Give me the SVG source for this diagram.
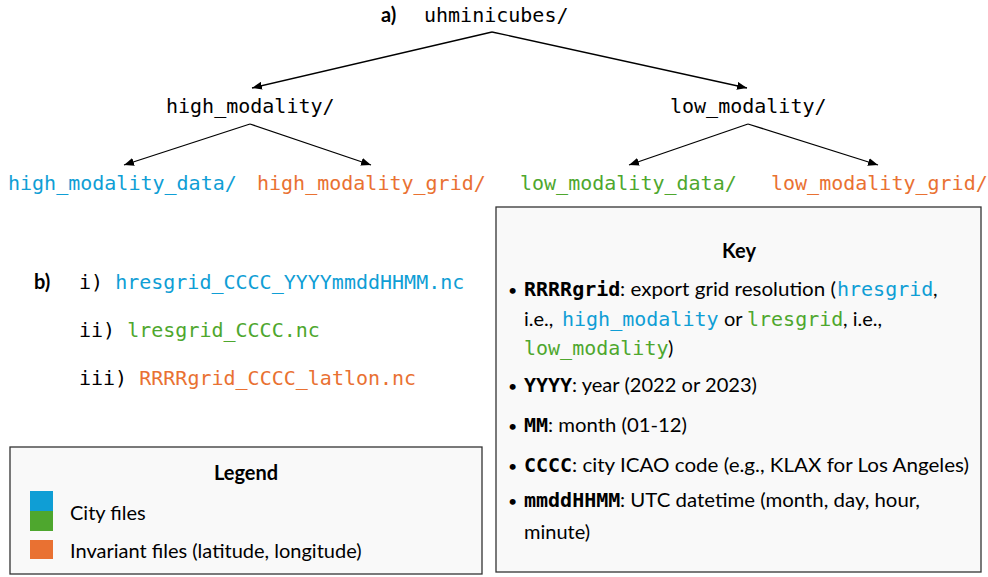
<svg xmlns="http://www.w3.org/2000/svg" width="988" height="577" viewBox="0 0 988 577">
  <defs>
    <marker id="arrow" viewBox="0 0 10 8" refX="10" refY="4" markerWidth="10" markerHeight="8" markerUnits="userSpaceOnUse" orient="auto">
      <path d="M0,0 L10,4 L0,8 Z" fill="#000"/>
    </marker>
  </defs>
  <style>
    .mono { font-family: "DejaVu Sans Mono", "Liberation Mono", monospace; font-size: 20px; fill: #000; }
    .monob { font-family: "DejaVu Sans Mono", "Liberation Mono", monospace; font-size: 20px; font-weight: bold; fill: #000; }
    .sans { font-family: Lato, "Liberation Sans", sans-serif; font-size: 20px; fill: #000; }
    .bold { font-family: Lato, "Liberation Sans", sans-serif; font-size: 20px; font-weight: bold; fill: #000; }
    .bullet { font-family: Lato, "Liberation Sans", sans-serif; font-size: 16px; fill: #000; }
    .blue { fill: #0F9ED5; }
    .green { fill: #4EA72E; }
    .orange { fill: #E97132; }
    .box { fill: #f9f9f9; stroke: #333; stroke-width: 1.3; }
    .edge { stroke: #000; stroke-width: 1.3; fill: none; marker-end: url(#arrow); }
  </style>
  <rect width="988" height="577" fill="#fff"/>

  <!-- directory tree -->
  <g id="root">
    <text class="bold" x="381" y="22">a)</text>
    <text class="mono" x="424" y="22">uhminicubes/</text>
  </g>
  <g id="high_modality">
    <text class="mono" x="166" y="113">high_modality/</text>
  </g>
  <g id="low_modality">
    <text class="mono" x="670" y="113">low_modality/</text>
  </g>
  <g id="high_modality_data">
    <text class="mono blue" x="8" y="190">high_modality_data/</text>
  </g>
  <g id="high_modality_grid">
    <text class="mono orange" x="257" y="190">high_modality_grid/</text>
  </g>
  <g id="low_modality_data">
    <text class="mono green" x="520" y="190">low_modality_data/</text>
  </g>
  <g id="low_modality_grid">
    <text class="mono orange" x="771" y="190">low_modality_grid/</text>
  </g>

  <g id="connectors">
    <line class="edge" x1="492" y1="32" x2="252" y2="88"/>
    <line class="edge" x1="492" y1="32" x2="747" y2="88"/>
    <line class="edge" x1="250" y1="124" x2="124" y2="165"/>
    <line class="edge" x1="250" y1="124" x2="371" y2="165"/>
    <line class="edge" x1="748" y1="124" x2="629" y2="165"/>
    <line class="edge" x1="748" y1="124" x2="878" y2="165"/>
  </g>

  <!-- file name patterns -->
  <g id="file-names">
    <text class="bold" x="34" y="289">b)</text>
    <text class="mono" x="79" y="289">i) <tspan class="blue">hresgrid_CCCC_YYYYmmddHHMM.nc</tspan></text>
    <text class="mono" x="79" y="337">ii) <tspan class="green">lresgrid_CCCC.nc</tspan></text>
    <text class="mono" x="79" y="385">iii) <tspan class="orange">RRRRgrid_CCCC_latlon.nc</tspan></text>
  </g>

  <!-- legend -->
  <g id="legend">
    <rect class="box" x="10" y="447" width="472" height="127"/>
    <text class="bold" x="246" y="480" text-anchor="middle" font-size="18">Legend</text>
    <rect x="30" y="491" width="23" height="20" fill="#0F9ED5"/>
    <rect x="30" y="511" width="23" height="20" fill="#4EA72E"/>
    <rect x="30" y="540" width="23" height="19" fill="#E97132"/>
    <text class="sans" x="70" y="520" font-size="18">City files</text>
    <text class="sans" x="70" y="558" font-size="18">Invariant files (latitude, longitude)</text>
  </g>

  <!-- key -->
  <g id="key">
    <rect class="box" x="496" y="207" width="485" height="365"/>
    <text class="bold" x="739" y="258" text-anchor="middle" font-size="18">Key</text>

    <text class="bullet" x="508" y="296">•</text>
    <text class="monob" x="524" y="296">RRRRgrid</text>
    <text class="sans" x="620" y="296" textLength="216" lengthAdjust="spacingAndGlyphs">: export grid resolution (</text>
    <text class="mono blue" x="837" y="296">hresgrid</text>
    <text class="sans" x="933" y="296">,</text>

    <text class="sans" x="524" y="326">i.e.,</text>
    <text class="mono blue" x="562" y="326">high_modality</text>
    <text class="sans" x="724" y="326">or</text>
    <text class="mono green" x="747" y="326">lresgrid</text>
    <text class="sans" x="843" y="326">, i.e.,</text>

    <text class="mono green" x="524" y="355">low_modality</text>
    <text class="sans" x="668" y="355">)</text>

    <text class="bullet" x="508" y="392">•</text>
    <text class="monob" x="524" y="392">YYYY</text>
    <text class="sans" x="572" y="392" textLength="185" lengthAdjust="spacingAndGlyphs">: year (2022 or 2023)</text>

    <text class="bullet" x="508" y="432">•</text>
    <text class="monob" x="524" y="432">MM</text>
    <text class="sans" x="548" y="432" textLength="139" lengthAdjust="spacingAndGlyphs">: month (01-12)</text>

    <text class="bullet" x="508" y="472">•</text>
    <text class="monob" x="524" y="472">CCCC</text>
    <text class="sans" x="572" y="472" textLength="397" lengthAdjust="spacingAndGlyphs">: city ICAO code (e.g., KLAX for Los Angeles)</text>

    <text class="bullet" x="508" y="507">•</text>
    <text class="monob" x="524" y="507">mmddHHMM</text>
    <text class="sans" x="620" y="507" textLength="300" lengthAdjust="spacingAndGlyphs">: UTC datetime (month, day, hour,</text>
    <text class="sans" x="524" y="539">minute)</text>
  </g>
</svg>
